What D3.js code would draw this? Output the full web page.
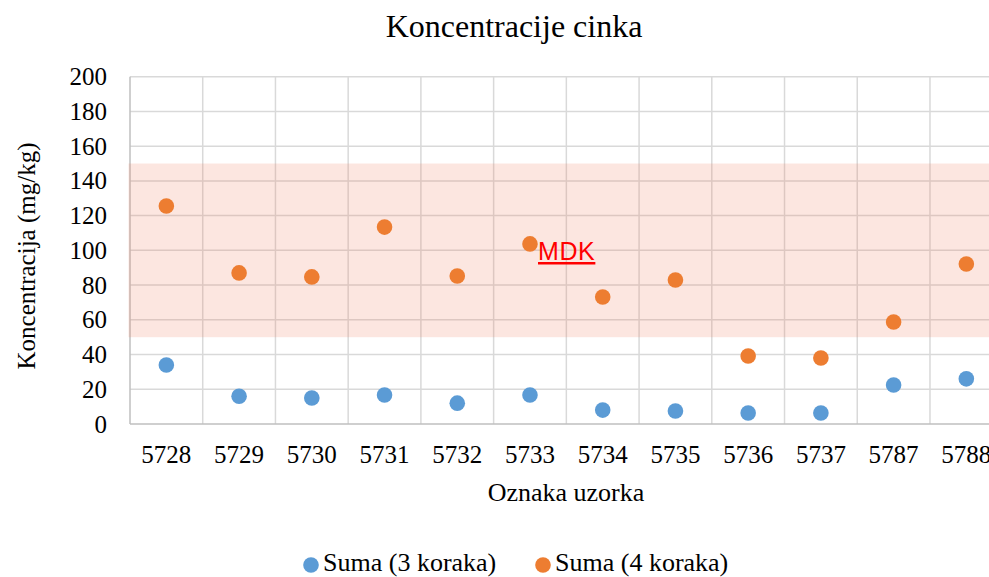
<!DOCTYPE html>
<html>
<head>
<meta charset="utf-8">
<script src="https://cdn.jsdelivr.net/npm/d3@7"></script>
<style>
  html, body { margin: 0; padding: 0; background: #fff; }
  svg { display: block; overflow: hidden; }
</style>
</head>
<body>
<svg id="chart" width="989" height="577"></svg>
<script>
// Sample labels and zinc concentrations (mg/kg)
const categories = ["5728", "5729", "5730", "5731", "5732", "5733", "5734", "5735", "5736", "5737", "5787", "5788"];
const suma3 = [34, 16, 15, 16.7, 12, 16.7, 8, 7.5, 6.3, 6.3, 22.5, 26];
const suma4 = [125.5, 87, 84.7, 113.4, 85.2, 103.7, 73.1, 82.9, 39.2, 38, 58.7, 92.1];
const yTicks = [0, 20, 40, 60, 80, 100, 120, 140, 160, 180, 200];
// MDK (maximum allowed concentration) range
const mdkRange = [50, 150];
const seriesNames = ["Suma (3 koraka)", "Suma (4 koraka)"];
const seriesColors = ["#5b9bd5", "#ed7d31"];

const W = 989, H = 577;
const plot = { left: 130, right: 1002.7, top: 76.7, bottom: 424 };
const serif = "'Liberation Serif', 'Times New Roman', serif";

const svg = d3.select("#chart");

const x = d3.scaleBand().domain(categories).range([plot.left, plot.right]);
const y = d3.scaleLinear().domain([0, 200]).range([plot.bottom, plot.top]);

// Horizontal gridlines
svg.append("g").selectAll("line").data(yTicks.filter(d => d > 0)).join("line")
  .attr("x1", plot.left).attr("x2", plot.right)
  .attr("y1", d => y(d)).attr("y2", d => y(d))
  .attr("stroke", "#d9d9d9").attr("stroke-width", 1.5);

// Vertical gridlines at category boundaries
svg.append("g").selectAll("line").data(categories.slice(1)).join("line")
  .attr("x1", d => x(d)).attr("x2", d => x(d))
  .attr("y1", plot.top).attr("y2", plot.bottom)
  .attr("stroke", "#d9d9d9").attr("stroke-width", 1.5);

// Axis lines
svg.append("line")
  .attr("x1", plot.left).attr("x2", plot.left)
  .attr("y1", plot.top).attr("y2", plot.bottom)
  .attr("stroke", "#bfbfbf").attr("stroke-width", 1.5);
svg.append("line")
  .attr("x1", plot.left).attr("x2", plot.right)
  .attr("y1", plot.bottom).attr("y2", plot.bottom)
  .attr("stroke", "#bfbfbf").attr("stroke-width", 1.5);

// MDK band
svg.append("rect")
  .attr("x", plot.left - 1.5)
  .attr("y", y(mdkRange[1]))
  .attr("width", W - plot.left + 1.5)
  .attr("height", y(mdkRange[0]) - y(mdkRange[1]))
  .attr("fill", "rgb(240,130,100)")
  .attr("fill-opacity", 0.2);

// Y tick labels
svg.append("g").selectAll("text").data(yTicks).join("text")
  .attr("x", 107).attr("y", d => y(d)).attr("dy", "0.34em")
  .attr("text-anchor", "end")
  .attr("font-family", serif).attr("font-size", 25).attr("fill", "#000")
  .text(d => d);

// X tick labels
svg.append("g").selectAll("text").data(categories).join("text")
  .attr("x", d => x(d) + x.bandwidth() / 2).attr("y", 463)
  .attr("text-anchor", "middle")
  .attr("font-family", serif).attr("font-size", 25).attr("fill", "#000")
  .text(d => d);

// Points
const series = [suma3, suma4];
series.forEach((vals, si) => {
  svg.append("g").selectAll("circle").data(vals).join("circle")
    .attr("cx", (d, i) => x(categories[i]) + x.bandwidth() / 2)
    .attr("cy", d => y(d))
    .attr("r", 7.8)
    .attr("fill", seriesColors[si]);
});

// MDK label
svg.append("text")
  .attr("x", 538).attr("y", 260)
  .attr("font-family", "'Liberation Sans', Arial, sans-serif")
  .attr("font-size", 25).attr("letter-spacing", 0.6).attr("fill", "#ff0000")
  .attr("text-decoration", "underline")
  .text("MDK");

// Title
svg.append("text")
  .attr("x", 514).attr("y", 37)
  .attr("text-anchor", "middle")
  .attr("font-family", serif).attr("font-size", 32).attr("fill", "#000")
  .text("Koncentracije cinka");

// Axis titles
svg.append("text")
  .attr("x", 566).attr("y", 501)
  .attr("text-anchor", "middle")
  .attr("font-family", serif).attr("font-size", 26).attr("fill", "#000")
  .text("Oznaka uzorka");

svg.append("text")
  .attr("transform", "translate(35, 256) rotate(-90)")
  .attr("text-anchor", "middle")
  .attr("font-family", serif).attr("font-size", 25).attr("fill", "#000")
  .text("Koncentracija (mg/kg)");

// Legend
const legendItems = [
  { cx: 311, tx: 323 },
  { cx: 543, tx: 555 }
];
legendItems.forEach((it, i) => {
  svg.append("circle")
    .attr("cx", it.cx).attr("cy", 565).attr("r", 7.8)
    .attr("fill", seriesColors[i]);
  svg.append("text")
    .attr("x", it.tx).attr("y", 571)
    .attr("font-family", serif).attr("font-size", 26).attr("fill", "#000")
    .text(seriesNames[i]);
});
</script>
</body>
</html>
